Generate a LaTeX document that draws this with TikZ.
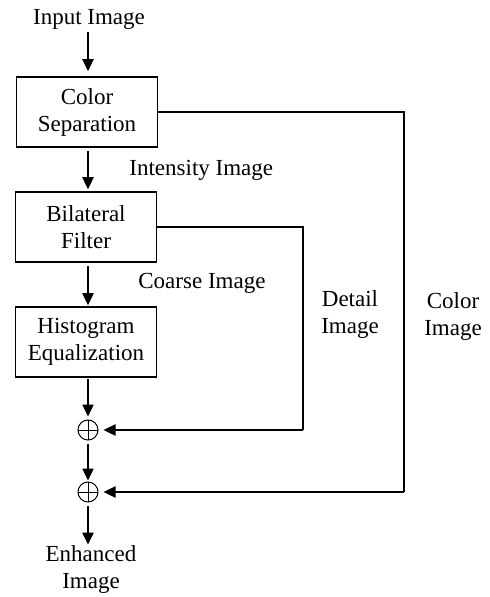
\documentclass[tikz,border=0pt]{standalone}
\usepackage{fontspec}
\setmainfont{Liberation Serif}
\usetikzlibrary{arrows.meta}
\begin{document}
\begin{tikzpicture}[x=0.5pt,y=-0.5pt,
  font=\fontsize{11.5}{13.5}\selectfont,
  box/.style={draw,line width=0.75pt,minimum width=70.5pt,minimum height=35pt,align=center,inner sep=0pt},
  lbl/.style={inner sep=0pt,align=center},
  arr/.style={line width=1.2pt,-{Triangle[length=6pt,width=5.5pt]}},
  wire/.style={line width=0.9pt},
  sum/.style={circle,draw,line width=0.5pt,minimum size=10pt,inner sep=0pt,
    path picture={\draw[line width=0.5pt] (path picture bounding box.north) -- (path picture bounding box.south) (path picture bounding box.west) -- (path picture bounding box.east);}}
]
\useasboundingbox (0,0) rectangle (489,597);
\node[lbl] (in) at (89,19) {Input Image};
\node[box] (cs) at (87,112) {Color\\Separation};
\node[box] (bf) at (86,227) {Bilateral\\Filter};
\node[box] (he) at (86,342) {Histogram\\Equalization};
\node[sum] (s1) at (88,430) {};
\node[sum] (s2) at (88,492) {};
\node[lbl] (out) at (91,569) {Enhanced\\Image};
\node[lbl,anchor=west] (ii) at (129,170) {Intensity Image};
\node[lbl,anchor=west] (ci) at (138,283) {Coarse Image};
\node[lbl] (di) at (350,315) {Detail\\Image};
\node[lbl] (col) at (453,317) {Color\\Image};
\coordinate (c1) at (404,112);
\coordinate (c2) at (404,492);
\coordinate (d1) at (303,227);
\coordinate (d2) at (303,430);
\draw[arr,shorten <=1.5pt,shorten >=2.5pt] (in.south -| s1) -- (cs.north -| s1);
\draw[arr,shorten <=1.5pt,shorten >=1pt] (cs.south -| s1) -- (bf.north -| s1);
\draw[arr,shorten <=1.5pt,shorten >=0.5pt] (bf.south -| s1) -- (he.north -| s1);
\draw[arr,shorten <=0.5pt,shorten >=1.5pt] (he.south -| s1) -- (s1.north);
\draw[arr,shorten <=1.5pt,shorten >=0.5pt] (s1.south) -- (s2.north);
\draw[arr,shorten <=1.5pt] (s2.south) -- (out.north -| s2);
\draw[wire] (cs.east) -- (c1) -- (c2);
\draw[wire] (bf.east |- d1) -- (d1) -- (d2);
\draw[arr,shorten >=2.5pt] (d2) -- (s1.east);
\draw[arr,shorten >=2.5pt] (c2) -- (s2.east);
\end{tikzpicture}
\end{document}
